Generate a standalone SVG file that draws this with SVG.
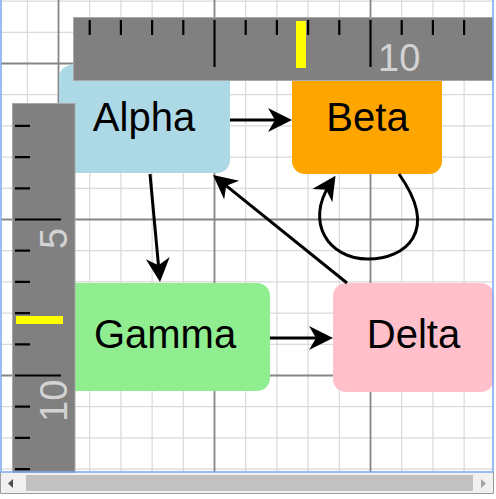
<svg xmlns="http://www.w3.org/2000/svg" width="496" height="499" viewBox="0 0 496 499">
<defs>
<style>
.minor{stroke:#d9d9d9;stroke-width:1.2;fill:none}
.major{stroke:#858585;stroke-width:1.8;fill:none}
.ruler{fill:#808080;stroke:#a9a9a9;stroke-width:1}
.tick{stroke:#000;stroke-width:2.2}
.rlabel{font-family:"Liberation Sans",Arial,sans-serif;font-size:38px;fill:#d3d3d3}
.node text{font-family:"Liberation Sans",Arial,sans-serif;font-size:40px;fill:#000;text-anchor:middle}
.edge{stroke:#000;stroke-width:3;fill:none;marker-end:url(#arrow)}
</style>
<marker id="arrow" markerUnits="userSpaceOnUse" viewBox="-15 -13 26 26" refX="0" refY="0" markerWidth="26" markerHeight="26" orient="auto"><path d="M10,0 L-14,-12 L-7,0 L-14,12 Z" fill="#000"/></marker>
<clipPath id="vp"><rect x="1" y="0" width="492" height="472"/></clipPath>
</defs>
<rect width="496" height="499" fill="#fff"/>
<g id="grid" clip-path="url(#vp)">
<path class="minor" d="M27.3,0V472M89.7,0V472M120.9,0V472M152.1,0V472M183.3,0V472M245.7,0V472M276.9,0V472M308.1,0V472M339.3,0V472M401.7,0V472M432.9,0V472M464.1,0V472M0,1.1H496M0,32.3H496M0,94.7H496M0,125.9H496M0,157.1H496M0,188.3H496M0,250.7H496M0,281.9H496M0,313.1H496M0,344.3H496M0,406.7H496M0,437.9H496M0,469.1H496"/>
<path class="major" d="M58.5,0V472M214.5,0V472M370.5,0V472M0,63.5H496M0,219.5H496M0,375.5H496"/>
</g>
<g id="nodes">
<g id="alpha" class="node"><rect x="59" y="65" width="171" height="108" rx="13" fill="#add8e6"/><text x="144" y="131">Alpha</text></g>
<g id="beta" class="node"><rect x="292" y="66" width="150" height="108" rx="13" fill="#ffa500"/><text x="367.5" y="131">Beta</text></g>
<g id="gamma" class="node"><rect x="60" y="283" width="210" height="108" rx="13" fill="#90ee90"/><text x="165" y="348">Gamma</text></g>
<g id="delta" class="node"><rect x="333" y="283" width="161" height="109" rx="13" fill="#ffc0cb"/><text x="413.5" y="348">Delta</text></g>
</g>
<g id="connectors">
<path class="edge" d="M230,120 L282,120"/>
<path class="edge" d="M150,174 L159.1,272.1"/>
<path class="edge" d="M347,283 L220.8,181.3"/>
<path class="edge" d="M270,338 L323,338"/>
<path class="edge" d="M399,174 C440,232 405,259 368,259 C328,259 305,222 330,184"/>
</g>
<g id="top-ruler">
<rect class="ruler" x="73.5" y="17.5" width="419.5" height="63"/>
<path class="tick" d="M89.7,20V35M120.9,20V35M152.1,20V35M183.3,20V35M214.5,20V67M245.7,20V35M276.9,20V35M308.1,20V35M339.3,20V35M370.5,20V67M401.7,20V35M432.9,20V35M464.1,20V35"/>
<text class="rlabel" x="378" y="70.5">10</text>
<rect x="296" y="21" width="10" height="47" fill="#ffff00"/>
</g>
<g id="left-ruler">
<rect class="ruler" x="12.5" y="103.5" width="62.5" height="369"/>
<path class="tick" d="M15,125.9H30M15,157.1H30M15,188.3H30M15,219.5H61M15,250.7H30M15,281.9H30M15,313.1H30M15,344.3H30M15,375.5H61M15,406.7H30M15,437.9H30M15,469.1H30"/>
<text class="rlabel" transform="translate(67,249) rotate(-90)">5</text>
<text class="rlabel" transform="translate(67,422) rotate(-90)">10</text>
<rect x="16" y="316" width="47" height="8" fill="#ffff00"/>
</g>
<g id="frame">
<path d="M1,0V472H493V0" fill="none" stroke="#7ba7f0" stroke-width="1.5"/>
<rect x="1" y="473" width="492" height="20" fill="#f0f0f0"/>
<rect x="26" y="475" width="447" height="16" fill="#c1c1c1"/>
<path d="M8,483.5L13,479V488Z" fill="#505050"/>
<path d="M486,483.5L481,479V488Z" fill="#a3a3a3"/>
<path d="M0.5,472V493.5H493.5V472" fill="none" stroke="#9a9a9a" stroke-width="1"/>
</g>
</svg>
